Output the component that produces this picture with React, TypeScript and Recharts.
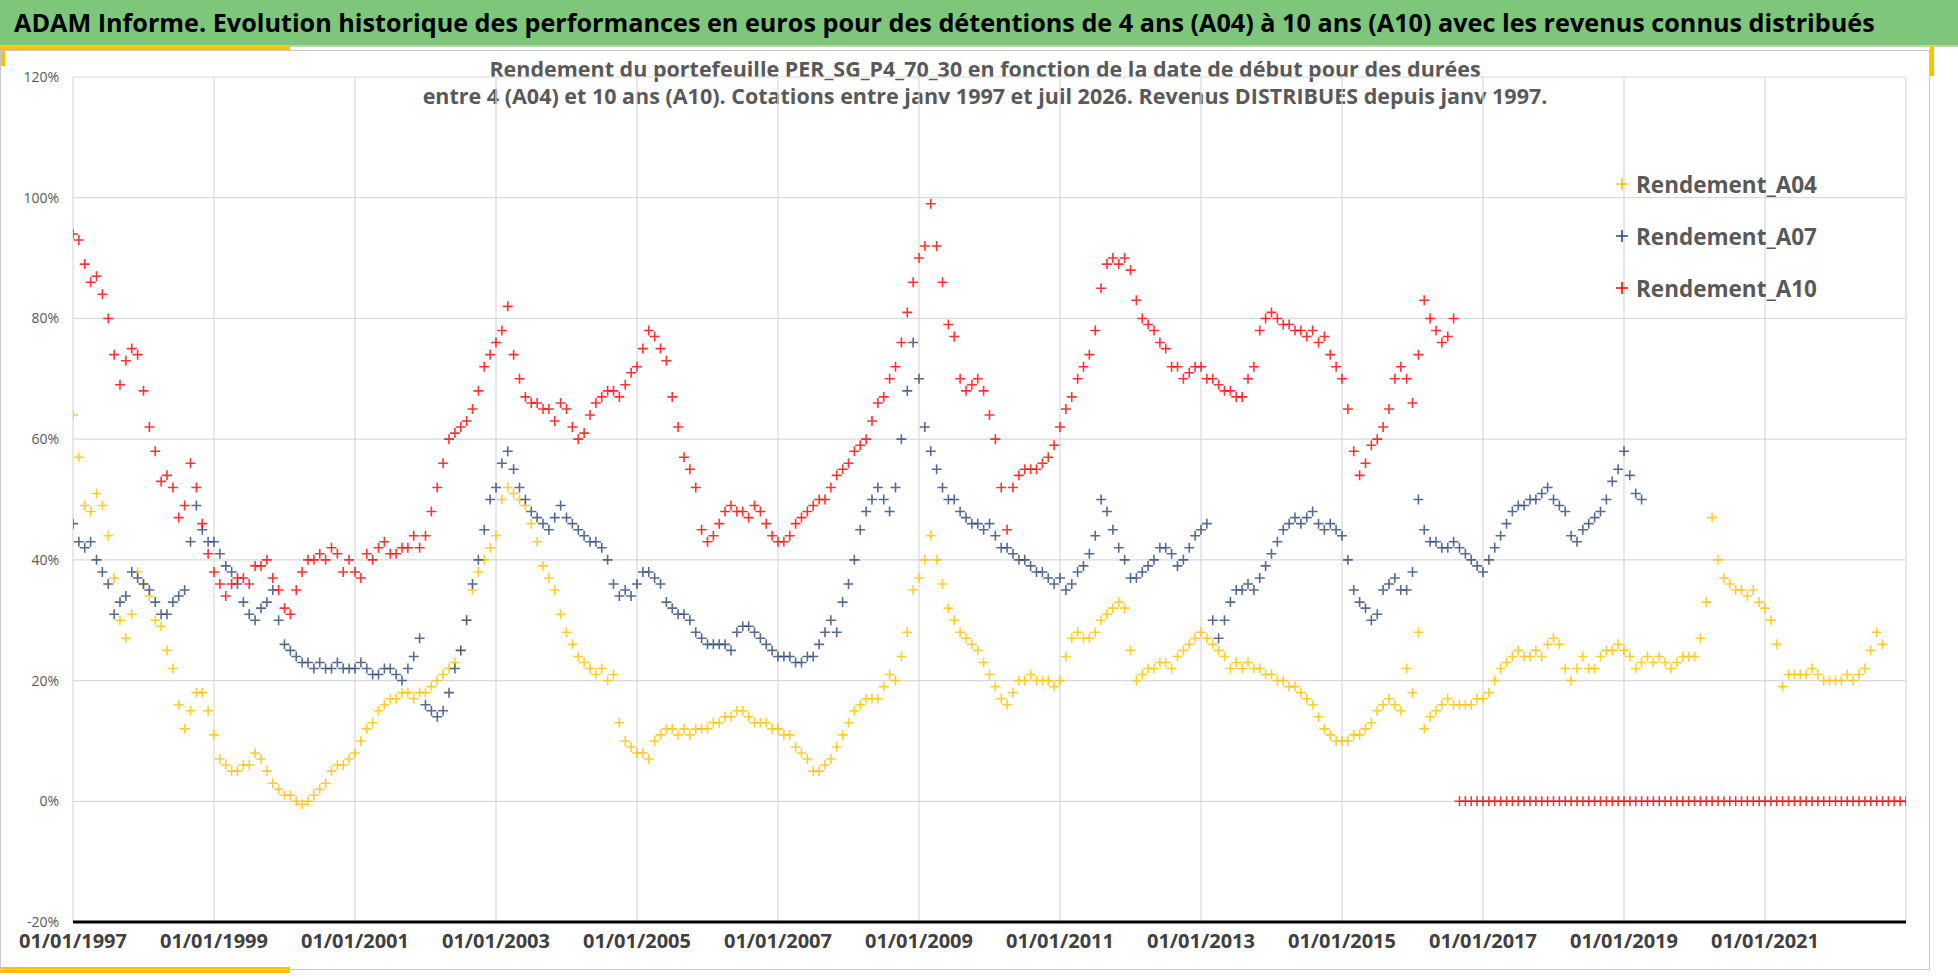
import React from "react";
import {
  ScatterChart,
  Scatter,
  XAxis,
  YAxis,
  CartesianGrid,
} from "recharts";

// monthly values from 01/1997, in %
const a04Values = [
  64, 57, 49, 48, 51, 49, 44, 37, 30, 27, 31, 38, // 1997
  36, 34, 30, 29, 25, 22, 16, 12, 15, 18, 18, 15, // 1998
  11, 7, 6, 5, 5, 6, 6, 8, 7, 5, 3, 2, // 1999
  1, 1, 0, -0.5, 0, 1, 2, 3, 5, 6, 6, 7, // 2000
  8, 10, 12, 13, 15, 16, 17, 17, 18, 18, 17, 18, // 2001
  18, 19, 20, 21, 22, 23, 25, 30, 35, 38, 40, 42, // 2002
  44, 50, 52, 51, 50, 49, 46, 43, 39, 37, 35, 31, // 2003
  28, 26, 24, 23, 22, 21, 22, 20, 21, 13, 10, 9, // 2004
  8, 8, 7, 10, 11, 12, 12, 11, 12, 11, 12, 12, // 2005
  12, 13, 13, 14, 14, 15, 15, 14, 13, 13, 13, 12, // 2006
  12, 11, 11, 9, 8, 7, 5, 5, 6, 7, 9, 11, // 2007
  13, 15, 16, 17, 17, 17, 19, 21, 20, 24, 28, 35, // 2008
  37, 40, 44, 40, 36, 32, 30, 28, 27, 26, 25, 23, // 2009
  21, 19, 17, 16, 18, 20, 20, 21, 20, 20, 20, 19, // 2010
  20, 24, 27, 28, 27, 27, 28, 30, 31, 32, 33, 32, // 2011
  25, 20, 21, 22, 22, 23, 23, 22, 24, 25, 26, 27, // 2012
  28, 27, 26, 25, 24, 22, 23, 22, 23, 22, 22, 21, // 2013
  21, 20, 20, 19, 19, 18, 17, 16, 14, 12, 11, 10, // 2014
  10, 10, 11, 11, 12, 13, 15, 16, 17, 16, 15, 22, // 2015
  18, 28, 12, 14, 15, 16, 17, 16, 16, 16, 16, 17, // 2016
  17, 18, 20, 22, 23, 24, 25, 24, 24, 25, 24, 26, // 2017
  27, 26, 22, 20, 22, 24, 22, 22, 24, 25, 25, 26, // 2018
  25, 24, 22, 23, 24, 23, 24, 23, 22, 23, 24, 24, // 2019
  24, 27, 33, 47, 40, 37, 36, 35, 35, 34, 35, 33, // 2020
  32, 30, 26, 19, 21, 21, 21, 21, 22, 21, 20, 20, // 2021
  20, 20, 21, 20, 21, 22, 25, 28, 26, // 2022
];

const a07Values = [
  46, 43, 42, 43, 40, 38, 36, 31, 33, 34, 38, 37, // 1997
  36, 35, 33, 31, 31, 33, 34, 35, 43, 49, 45, 43, // 1998
  43, 41, 39, 38, 36, 33, 31, 30, 32, 33, 35, 30, // 1999
  26, 25, 24, 23, 23, 22, 23, 22, 22, 23, 22, 22, // 2000
  22, 23, 22, 21, 21, 22, 22, 21, 20, 22, 24, 27, // 2001
  16, 15, 14, 15, 18, 22, 25, 30, 36, 40, 45, 50, // 2002
  52, 56, 58, 55, 52, 50, 48, 47, 46, 45, 47, 49, // 2003
  47, 46, 45, 44, 43, 43, 42, 40, 36, 34, 35, 34, // 2004
  36, 38, 38, 37, 36, 33, 32, 31, 31, 30, 28, 27, // 2005
  26, 26, 26, 26, 25, 28, 29, 29, 28, 27, 26, 25, // 2006
  24, 24, 24, 23, 23, 24, 24, 26, 28, 30, 28, 33, // 2007
  36, 40, 45, 48, 50, 52, 50, 48, 52, 60, 68, 76, // 2008
  70, 62, 58, 55, 52, 50, 50, 48, 47, 46, 46, 45, // 2009
  46, 44, 42, 42, 41, 40, 40, 39, 38, 38, 37, 36, // 2010
  37, 35, 36, 38, 39, 41, 44, 50, 48, 45, 42, 40, // 2011
  37, 37, 38, 39, 40, 42, 42, 41, 39, 40, 42, 44, // 2012
  45, 46, 30, 27, 30, 33, 35, 35, 36, 35, 37, 39, // 2013
  41, 43, 45, 46, 47, 46, 47, 48, 46, 45, 46, 45, // 2014
  44, 40, 35, 33, 32, 30, 31, 35, 36, 37, 35, 35, // 2015
  38, 50, 45, 43, 43, 42, 42, 43, 42, 41, 40, 39, // 2016
  38, 40, 42, 44, 46, 48, 49, 49, 50, 50, 51, 52, // 2017
  50, 49, 48, 44, 43, 45, 46, 47, 48, 50, 53, 55, // 2018
  58, 54, 51, 50, // 2019
];

const a10Values = [
  94, 93, 89, 86, 87, 84, 80, 74, 69, 73, 75, 74, // 1997
  68, 62, 58, 53, 54, 52, 47, 49, 56, 52, 46, 41, // 1998
  38, 36, 34, 36, 37, 37, 36, 39, 39, 40, 37, 35, // 1999
  32, 31, 35, 38, 40, 40, 41, 40, 42, 41, 38, 40, // 2000
  38, 37, 41, 40, 42, 43, 41, 41, 42, 42, 44, 42, // 2001
  44, 48, 52, 56, 60, 61, 62, 63, 65, 68, 72, 74, // 2002
  76, 78, 82, 74, 70, 67, 66, 66, 65, 65, 63, 66, // 2003
  65, 62, 60, 61, 64, 66, 67, 68, 68, 67, 69, 71, // 2004
  72, 75, 78, 77, 75, 73, 67, 62, 57, 55, 52, 45, // 2005
  43, 44, 46, 48, 49, 48, 48, 47, 49, 48, 46, 44, // 2006
  43, 43, 44, 46, 47, 48, 49, 50, 50, 52, 54, 55, // 2007
  56, 58, 59, 60, 63, 66, 67, 70, 72, 76, 81, 86, // 2008
  90, 92, 99, 92, 86, 79, 77, 70, 68, 69, 70, 68, // 2009
  64, 60, 52, 45, 52, 54, 55, 55, 55, 56, 57, 59, // 2010
  62, 65, 67, 70, 72, 74, 78, 85, 89, 90, 89, 90, // 2011
  88, 83, 80, 79, 78, 76, 75, 72, 72, 70, 71, 72, // 2012
  72, 70, 70, 69, 68, 68, 67, 67, 70, 72, 78, 80, // 2013
  81, 80, 79, 79, 78, 78, 77, 78, 76, 77, 74, 72, // 2014
  70, 65, 58, 54, 56, 59, 60, 62, 65, 70, 72, 70, // 2015
  66, 74, 83, 80, 78, 76, 77, 80, // 2016
];

// periods without a full 10-year window are reported as 0
const a10Zeros = [
  0, 0, 0, 0, // 2016
  0, 0, 0, 0, 0, 0, 0, 0, 0, 0, 0, 0, // 2017
  0, 0, 0, 0, 0, 0, 0, 0, 0, 0, 0, 0, // 2018
  0, 0, 0, 0, 0, 0, 0, 0, 0, 0, 0, 0, // 2019
  0, 0, 0, 0, 0, 0, 0, 0, 0, 0, 0, 0, // 2020
  0, 0, 0, 0, 0, 0, 0, 0, 0, 0, 0, 0, // 2021
  0, 0, 0, 0, 0, 0, 0, 0, 0, 0, 0, 0, // 2022
  0, // 2023
];

const yearTicks = [1997, 1999, 2001, 2003, 2005, 2007, 2009, 2011, 2013, 2015, 2017, 2019, 2021];
const pctTicks = [-20, 0, 20, 40, 60, 80, 100, 120];

const toPoints = (vals: number[], startMonth = 0) =>
  vals.map((v, i) => ({ x: 1997 + (startMonth + i) / 12, y: v }));

const a04 = toPoints(a04Values);
const a07 = toPoints(a07Values);
const a10 = [...toPoints(a10Values), ...toPoints(a10Zeros, a10Values.length)];

const YELLOW = "#FFC000";
const NAVY = "#2B4676";
const RED = "#FF0000";

const plus = (color: string) => (props: any) => {
  const { cx, cy } = props;
  if (cx == null || cy == null) return <g />;
  return (
    <path
      d={`M${cx - 5},${cy}h10M${cx},${cy - 5}v10`}
      stroke={color}
      strokeWidth={1.6}
      strokeOpacity={0.8}
      fill="none"
    />
  );
};

const series = [
  { name: "Rendement_A04", color: YELLOW },
  { name: "Rendement_A07", color: NAVY },
  { name: "Rendement_A10", color: RED },
];

function LegendBox() {
  return (
    <div style={{ position: "absolute", left: 1612, top: 158 }}>
      {series.map((s) => (
        <div
          key={s.name}
          style={{ display: "flex", alignItems: "center", height: 52 }}
        >
          <svg width={20} height={20}>
            <path d="M4,10h12M10,4v12" stroke={s.color} strokeWidth={1.6} />
          </svg>
          <span
            style={{
              fontWeight: 700,
              fontSize: 22.5,
              color: "#595959",
              marginLeft: 4,
            }}
          >
            {s.name}
          </span>
        </div>
      ))}
    </div>
  );
}

export default function App() {
  return (
    <div
      style={{
        position: "absolute",
        left: 0,
        top: 0,
        width: 1958,
        height: 979,
        background: "#fff",
        fontFamily: "Open Sans, sans-serif",
        overflow: "hidden",
      }}
    >
      <div
        style={{
          position: "absolute",
          left: 0,
          top: 0,
          width: 1958,
          height: 45,
          background: "#7DC67A",
          borderBottom: "2px solid #B8D9A8",
        }}
      >
        <div
          style={{
            position: "absolute",
            left: 14,
            top: 5,
            fontSize: 25.2,
            fontWeight: 700,
            color: "#000",
            whiteSpace: "nowrap",
          }}
        >
          ADAM Informe. Evolution historique des performances en euros pour des détentions de 4 ans (A04) à 10 ans (A10) avec les revenus connus distribués
        </div>
      </div>
      <div style={{ position: "absolute", left: 0, top: 46, width: 290, height: 5, background: YELLOW }} />
      <div style={{ position: "absolute", left: 0, top: 46, width: 5, height: 20, background: YELLOW }} />
      <div style={{ position: "absolute", left: 1930, top: 46, width: 4, height: 30, background: YELLOW }} />
      <div style={{ position: "absolute", left: 0, top: 967, width: 290, height: 6, background: YELLOW }} />
      <div style={{ position: "absolute", left: 0, top: 50, width: 1930, height: 920, border: "1px solid #c8c8c8", boxSizing: "border-box" }} />
      <div
        style={{
          position: "absolute",
          left: 0,
          width: 1970,
          top: 55,
          textAlign: "center",
          fontSize: 21.5,
          fontWeight: 700,
          color: "#595959",
          lineHeight: "27px",
          whiteSpace: "nowrap",
        }}
      >
        Rendement du portefeuille PER_SG_P4_70_30 en fonction de la date de début pour des durées
        <br />
        entre 4 (A04) et 10 ans (A10). Cotations entre janv 1997 et juil 2026. Revenus DISTRIBUES depuis janv 1997.
      </div>
      <div style={{ position: "absolute", left: 0, top: 0 }}>
        <ScatterChart
          width={1958}
          height={979}
          margin={{ top: 77, right: 52, bottom: 12, left: 0 }}
        >
          <CartesianGrid stroke="#D9D9D9" strokeWidth={1.2} />
          <XAxis
            type="number"
            dataKey="x"
            domain={[1997, 2023]}
            ticks={yearTicks}
            allowDataOverflow
            tickFormatter={(v: number) => `01/01/${v}`}
            tick={{ fontSize: 20, fontWeight: 700, fill: "#404040" }}
            tickLine={false}
            axisLine={{ stroke: "#000", strokeWidth: 3 }}
            height={45}
            tickMargin={6}
          />
          <YAxis
            type="number"
            dataKey="y"
            domain={[-20, 120]}
            ticks={pctTicks}
            tickFormatter={(v: number) => `${v}%`}
            tick={{ fontSize: 14, fill: "#595959" }}
            tickLine={false}
            axisLine={false}
            width={73}
            tickMargin={8}
          />
          <Scatter name="Rendement_A04" data={a04} shape={plus(YELLOW)} isAnimationActive={false} />
          <Scatter name="Rendement_A07" data={a07} shape={plus(NAVY)} isAnimationActive={false} />
          <Scatter name="Rendement_A10" data={a10} shape={plus(RED)} isAnimationActive={false} />
        </ScatterChart>
      </div>
      <LegendBox />
    </div>
  );
}
